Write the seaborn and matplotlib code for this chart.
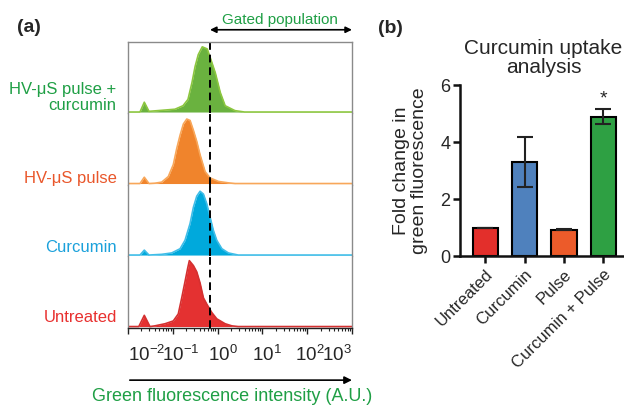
import matplotlib
matplotlib.use("Agg")
import matplotlib.pyplot as plt
import matplotlib.transforms as mtransforms
import seaborn as sns
from matplotlib.ticker import LogLocator, NullFormatter, FixedLocator

# ---- panel (a): flow cytometry histograms (intensity in A.U., height as fraction of row) ----
green_x = [0.010, 0.0186, 0.0232, 0.0295, 0.0468, 0.112, 0.170, 0.219, 0.269, 0.316, 0.372,
           0.457, 0.589, 0.676, 0.891, 1.15, 1.48, 2.45, 4.0, 1000]
green_y = [0.0, 0.0, 0.14, 0.01, 0.02, 0.04, 0.09, 0.18, 0.42, 0.65, 0.82,
           0.93, 0.90, 0.79, 0.56, 0.28, 0.09, 0.02, 0.0, 0.0]

orange_x = [0.010, 0.0186, 0.0232, 0.0295, 0.0402, 0.0568, 0.0798, 0.103, 0.123, 0.146, 0.173,
            0.206, 0.244, 0.289, 0.344, 0.408, 0.528, 0.682, 1.05, 1.73, 2.48, 1000]
orange_y = [0.0, 0.0, 0.09, 0.0, 0.005, 0.02, 0.10, 0.27, 0.50, 0.69, 0.85,
            0.92, 0.90, 0.76, 0.60, 0.41, 0.17, 0.08, 0.03, 0.01, 0.0, 0.0]

blue_x = [0.010, 0.0186, 0.0232, 0.0295, 0.0568, 0.095, 0.146, 0.188, 0.244, 0.289, 0.344,
          0.408, 0.484, 0.576, 0.682, 0.809, 0.963, 1.25, 1.75, 2.89, 1000]
blue_y = [0.0, 0.0, 0.07, 0.0, 0.01, 0.03, 0.09, 0.21, 0.45, 0.68, 0.84,
          0.91, 0.87, 0.73, 0.54, 0.35, 0.21, 0.09, 0.03, 0.0, 0.0]

red_x = [0.010, 0.0175, 0.0232, 0.031, 0.040, 0.0673, 0.103, 0.133, 0.159, 0.188, 0.217,
         0.235, 0.289, 0.344, 0.408, 0.484, 0.576, 0.745, 0.963, 1.48, 2.09, 2.89, 1000]
red_y = [0.0, 0.0, 0.16, 0.0, 0.01, 0.04, 0.08, 0.18, 0.41, 0.64, 0.84,
         0.94, 0.87, 0.78, 0.62, 0.41, 0.32, 0.20, 0.11, 0.04, 0.01, 0.0, 0.0]

row_labels = ["HV-\u03bcS pulse +\ncurcumin", "HV-\u03bcS pulse", "Curcumin", "Untreated"]
gate_value = 0.68
decades = [0.01, 0.1, 1, 10, 100, 1000]
decade_labels = ["10$^{-2}$", "10$^{-1}$", "10$^{0}$", "10$^{1}$", "10$^{2}$", "10$^{3}$"]

# ---- panel (b): fold change bar chart ----
groups = ["Untreated", "Curcumin", "Pulse", "Curcumin + Pulse"]
fold_change = [1.0, 3.30, 0.93, 4.89]
fold_err = [0.0, 0.87, 0.02, 0.27]

sns.set_style("ticks")
plt.rcParams["font.family"] = ["Liberation Sans", "DejaVu Sans"]
plt.rcParams["mathtext.default"] = "regular"

fig = plt.figure(figsize=(6.24, 4.07), dpi=100)

rows = [
    (green_x, green_y, "#6ab23f", "#8cc63f", "#1f9f45", 0.22),
    (orange_x, orange_y, "#f0842c", "#f8a75a", "#e9572b", 0.09),
    (blue_x, blue_y, "#00a9dc", "#3fbde8", "#1ba1db", 0.13),
    (red_x, red_y, "#e43131", "#d43030", "#e8302f", 0.15),
]

left, width = 0.205, 0.359
top, row_h = 0.897, 0.1757
axes_a = []
for i, (xs, ys, fill_c, base_c, text_c, label_y) in enumerate(rows):
    ax = fig.add_axes([left, top - (i + 1) * row_h, width, row_h])
    axes_a.append(ax)
    ax.fill_between(xs, 0, ys, color=fill_c, lw=0)
    sns.lineplot(x=xs, y=ys, ax=ax, color=base_c, lw=1.2, sort=False, estimator=None)
    ax.axvline(gate_value, color="black", lw=1.4, ls=(0, (4, 2.5)))
    ax.set_xscale("log")
    ax.set_xlim(0.01, 1000)
    ax.set_ylim(-0.02, 1.0)
    ax.set_yticks([])
    ax.set_ylabel("")
    for s in ["left", "right", "top", "bottom"]:
        ax.spines[s].set_color("#8a8a8a")
        ax.spines[s].set_linewidth(1.0)
    ax.spines["top"].set_visible(i == 0)
    ax.spines["bottom"].set_visible(i == 3)
    ax.text(-0.05, label_y, row_labels[i], transform=ax.transAxes, ha="right", va="center",
            color=text_c, fontsize=12, linespacing=1.1)
    if i < 3:
        ax.tick_params(axis="x", which="both", bottom=False, labelbottom=False)

bax = axes_a[-1]
bax.spines["bottom"].set_color("#222222")
bax.xaxis.set_major_locator(FixedLocator(decades))
bax.set_xticklabels(decade_labels)
bax.xaxis.set_minor_locator(LogLocator(base=10, subs=range(2, 10), numticks=20))
bax.xaxis.set_minor_formatter(NullFormatter())
bax.tick_params(axis="x", which="major", length=4, width=1, color="#222222", pad=8, labelsize=13.5)
bax.tick_params(axis="x", which="minor", length=2, width=0.8, color="#222222")
tl = bax.get_xticklabels()
tl[0].set_ha("left")
tl[-1].set_ha("right")
for lab, dx in zip(tl, [0, 8, 5, 5, 3, 0]):
    lab.set_transform(lab.get_transform() + mtransforms.ScaledTranslation(dx / 100, 0, fig.dpi_scale_trans))

# gated population arrow
tax = axes_a[0]
tax.annotate("", xy=(1000, 1.17), xytext=(gate_value, 1.17), xycoords=tax.get_xaxis_transform(),
             arrowprops=dict(arrowstyle="<|-|>", color="black", lw=1.2, mutation_scale=9,
                             shrinkA=0, shrinkB=0), annotation_clip=False)
fig.text(0.449, 0.951, "Gated population", color="#1f9f45", fontsize=11, ha="center", va="center")

# x-axis arrow and label
fig.add_artist(matplotlib.patches.FancyArrowPatch((0.208, 0.066), (0.564, 0.066),
               transform=fig.transFigure, arrowstyle="-|>", mutation_scale=11,
               color="black", lw=1.2, shrinkA=0, shrinkB=0))
fig.text(0.372, 0.027, "Green fluorescence intensity (A.U.)", color="#1f9f45", fontsize=13,
         ha="center", va="center")

fig.text(0.046, 0.933, "(a)", fontsize=14, fontweight="bold", ha="center", va="center")
fig.text(0.625, 0.930, "(b)", fontsize=14, fontweight="bold", ha="center", va="center")

# ---- panel (b) ----
axb = fig.add_axes([0.737, 0.371, 0.268, 0.420])
bar_colors = ["#e32f2b", "#4f81bd", "#ec5b2a", "#2ea043"]
sns.barplot(x=groups, y=fold_change, hue=groups, palette=bar_colors, legend=False, saturation=1,
            width=0.64, edgecolor="black", linewidth=1.5, ax=axb)
axb.errorbar(x=range(len(groups)), y=fold_change, yerr=fold_err, fmt="none",
             ecolor="#222222", elinewidth=1.5, capsize=6, capthick=1.5)
axb.text(3, fold_change[3] + fold_err[3] + 0.05, "*", ha="center", va="bottom", fontsize=14)
axb.set_xlim(-0.64, 3.6)
axb.set_ylim(0, 6)
axb.set_yticks([0, 2, 4, 6])
axb.set_title("Curcumin uptake\nanalysis", fontsize=15, pad=9, linespacing=1.0)
axb.set_ylabel("Fold change in\ngreen fluorescence", fontsize=14, labelpad=9, linespacing=1.05)
sns.despine(ax=axb)
for s in ["left", "bottom"]:
    axb.spines[s].set_linewidth(1.8)
    axb.spines[s].set_color("#111111")
axb.tick_params(axis="both", length=5, width=1.8, color="#111111")
axb.tick_params(axis="y", labelsize=13, pad=2)
axb.tick_params(axis="x", labelsize=12, pad=3)
plt.setp(axb.get_xticklabels(), rotation=45, ha="right", rotation_mode="anchor")

fig.savefig("out.png", dpi=100)
